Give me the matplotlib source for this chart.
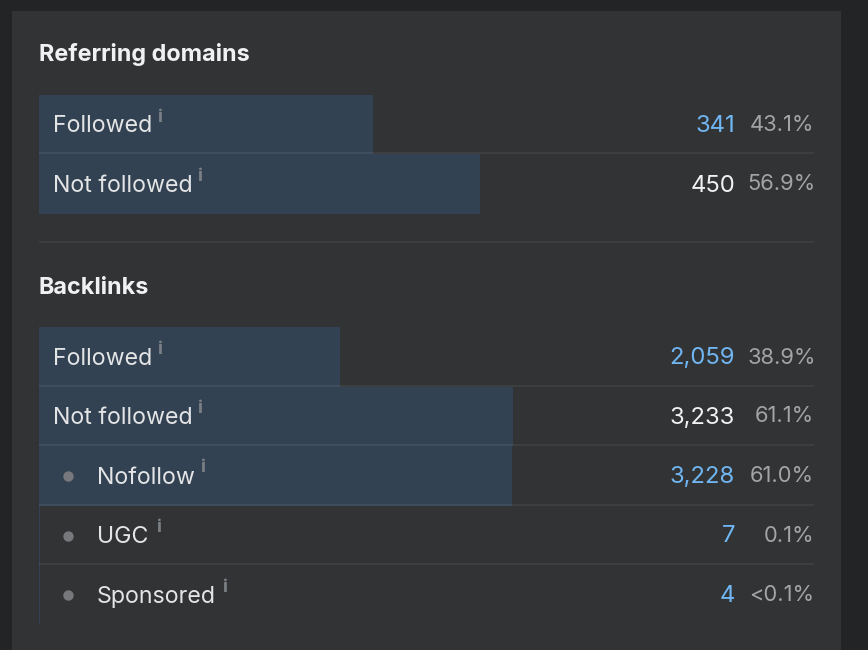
import matplotlib
matplotlib.use('Agg')
import matplotlib.pyplot as plt
from matplotlib.patches import Rectangle

W, H = 868, 650

# data
domain_labels = ['Followed', 'Not followed']
domain_counts = ['341', '450']
domain_share = [43.1, 56.9]
domain_share_text = ['43.1%', '56.9%']

backlink_labels = ['Followed', 'Not followed', 'Nofollow', 'UGC', 'Sponsored']
backlink_counts = ['2,059', '3,233', '3,228', '7', '4']
backlink_share = [38.9, 61.1, 61.0, 0.1, 0.076]
backlink_share_text = ['38.9%', '61.1%', '61.0%', '0.1%', '<0.1%']

# layout, in pixels
domain_rows = [(95, 153), (153, 214)]
backlink_rows = [(327, 386), (386, 445), (445, 505), (505, 564), (564, 624)]
domain_pct_right = [814, 816]
backlink_pct_right = [816, 814, 814, 814, 814]
domain_sup = [157, 197]
backlink_sup = [157, 197, 200, 156, 222]
sub_rows = [False, False, True, True, True]
linked_domains = [True, False]
linked_backlinks = [True, False, True, True, True]

OUTER = '#232425'
PANEL = '#323334'
BAR = '#334252'
SEP = '#3e3f41'
BLUE = '#6fb6f2'
WHITE = '#f0f1f2'
GREY = '#a3a4a6'
INFO = '#7b8085'

plt.rcParams['font.family'] = ['Inter', 'DejaVu Sans']

fig = plt.figure(figsize=(W / 100, H / 100), dpi=100, facecolor=OUTER)
fig.patches.append(Rectangle((12 / W, 0), 829 / W, 1 - 11 / H, transform=fig.transFigure,
                             facecolor=PANEL, edgecolor='none', zorder=0))

# bars live on a 0-100 % axis, 775 px wide
bar_ax = fig.add_axes([39 / W, 0, 775 / W, 1], zorder=1)
bar_ax.set_xlim(0, 100)
bar_ax.set_ylim(H, 0)
bar_ax.axis('off')

# text and rules in pixel coordinates
ax = fig.add_axes([0, 0, 1, 1], zorder=2)
ax.set_xlim(0, W)
ax.set_ylim(H, 0)
ax.axis('off')


def draw_section(title, title_y, labels, counts, share, share_text, rows, pct_right, sup_x, linked, subs):
    ax.text(39, title_y, title, fontsize=16.85, fontweight='bold', color=WHITE, va='center')
    for i, (top, bottom) in enumerate(rows):
        bar_ax.barh((top + bottom) / 2, share[i], height=bottom - top, color=BAR, linewidth=0)
        mid = (top + bottom) / 2 + 2
        x = 52.7
        if subs[i]:
            x = 96.8
            ax.plot(68, mid - 1, 'o', ms=7.5, color='#76787b', mew=0)
        ax.text(x, mid + 0.5, labels[i], fontsize=16.7, color='#e4e5e6', va='center')
        ax.text(sup_x[i] + 3, mid - 9, 'i', fontsize=13, fontweight='bold', color=INFO, va='center', ha='center')
        ax.text(735, mid, counts[i], fontsize=17.2, color=BLUE if linked[i] else WHITE, va='center', ha='right')
        ax.text(pct_right[i], mid - 1, share_text[i], fontsize=15.8, color=GREY, va='center', ha='right')
        if i < len(rows) - 1:
            # rule is lighter over a bar
            ax.plot([39, 814], [bottom, bottom], color=SEP, lw=1.4, solid_capstyle='butt')
            end = 39 + 7.75 * share[i]
            ax.plot([39, end], [bottom, bottom], color='#3f4f5f', lw=1.4, solid_capstyle='butt')


draw_section('Referring domains', 55, domain_labels, domain_counts, domain_share, domain_share_text,
             domain_rows, domain_pct_right, domain_sup, linked_domains, [False, False])
ax.plot([39, 814], [242, 242], color=SEP, lw=1.4, solid_capstyle='butt')
draw_section('Backlinks', 287.5, backlink_labels, backlink_counts, backlink_share, backlink_share_text,
             backlink_rows, backlink_pct_right, backlink_sup, linked_backlinks, sub_rows)

fig.savefig('out.png', dpi=100, facecolor=fig.get_facecolor())
